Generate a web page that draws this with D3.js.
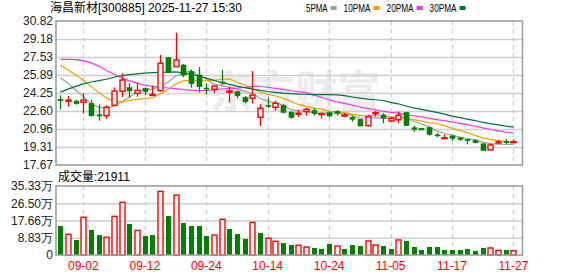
<!DOCTYPE html>
<html>
<head>
<meta charset="utf-8">
<script src="https://cdn.jsdelivr.net/npm/d3@7"></script>
<style>
body { margin: 0; background: #fff; }
svg { display: block; font-family: "Liberation Sans", Arial, "Noto Sans CJK SC", sans-serif; }
</style>
</head>
<body>
<div class="klinewrap"></div>
<script>
var dates = ["08-28","08-29","09-01","09-02","09-03","09-04","09-05","09-08","09-09","09-10",
    "09-11","09-12","09-15","09-16","09-17","09-18","09-19","09-22","09-23","09-24",
    "09-25","09-26","09-29","09-30","10-09","10-10","10-13","10-14","10-15","10-16",
    "10-17","10-20","10-21","10-22","10-23","10-24","10-27","10-28","10-29","10-30",
    "10-31","11-03","11-04","11-05","11-06","11-07","11-10","11-11","11-12","11-13",
    "11-14","11-17","11-18","11-19","11-20","11-21","11-24","11-25","11-26","11-27"];

var opens = [23.67,23.49,23.50,23.40,23.30,22.25,22.17,23.12,24.40,24.73,
    24.22,24.64,24.03,24.46,27.47,26.65,26.80,26.20,25.89,24.70,
    24.58,25.25,24.31,24.37,23.82,23.76,22.03,23.10,22.94,23.09,
    22.50,22.35,22.54,22.67,22.33,22.45,22.54,22.15,22.03,21.85,
    21.26,22.40,22.24,21.69,21.80,22.48,21.07,21.02,21.08,20.42,
    20.10,20.32,20.16,20.02,19.89,19.60,19.04,19.74,19.80,19.74];
var highs = [24.03,23.97,23.61,24.22,23.61,23.21,23.12,24.76,26.04,25.13,
    25.19,24.73,24.91,27.72,27.50,29.75,26.89,26.41,26.60,25.13,
    24.91,26.35,24.82,24.46,23.97,26.25,23.21,23.82,23.54,23.21,
    22.55,22.69,22.90,22.85,22.48,22.54,22.69,22.40,22.15,21.87,
    22.24,22.60,22.40,22.08,22.54,22.50,21.26,21.07,21.17,20.62,
    20.47,20.41,20.20,20.05,20.02,19.65,19.65,19.95,20.05,20.02];
var lows = [22.75,23.00,23.18,22.39,22.08,21.72,21.87,23.06,23.85,23.82,
    23.91,24.06,23.97,24.37,26.10,26.65,25.70,24.73,24.30,24.13,
    24.27,24.98,23.36,23.76,23.30,23.30,21.23,22.85,22.63,22.39,
    21.93,22.03,22.17,22.17,21.93,22.03,22.17,22.03,21.63,21.23,
    21.17,22.08,21.48,21.57,21.48,21.26,20.71,20.87,20.35,20.20,
    20.10,19.89,19.89,19.56,19.65,18.98,18.98,19.59,19.59,19.71];
var closes = [23.55,23.60,23.27,23.60,22.17,22.15,22.94,24.43,25.43,24.43,
    24.49,24.37,24.12,26.96,26.14,27.26,25.89,25.10,24.82,24.60,
    24.88,25.18,24.43,24.00,23.45,24.06,22.85,23.03,23.30,22.48,
    22.00,22.40,22.76,22.39,22.37,22.15,22.40,22.23,21.85,21.23,
    22.08,22.45,21.97,21.93,22.20,21.26,20.93,20.87,20.47,20.40,
    20.16,20.11,20.00,19.89,19.71,18.98,19.50,19.78,19.71,19.80];

// volume in 万手
var volumes = [14.85,10.6,7.7,19.3,12.8,10.2,9.1,19.8,27.0,15.9,
    12.6,9.7,10.2,32.6,20.0,30.7,16.4,14.85,14.85,9.7,
    10.2,18.3,13.3,10.75,8.2,16.7,11.3,8.55,7.0,6.1,
    5.1,5.0,4.1,3.6,3.1,5.6,4.6,3.1,5.1,4.6,
    7.2,5.1,4.6,3.1,7.7,7.2,4.1,2.56,4.1,4.1,
    2.56,2.56,2.56,3.1,2.05,3.6,3.6,2.4,2.56,2.19];

var ma5 = [25.64,25.13,24.52,23.91,23.24,22.96,22.83,23.06,23.43,23.89,
    24.34,24.63,24.57,24.87,25.22,25.77,26.07,26.27,25.84,25.53,
    25.06,24.92,24.78,24.62,24.39,24.22,23.76,23.48,23.34,23.14,
    22.73,22.64,22.59,22.41,22.38,22.41,22.41,22.31,22.20,21.96,
    21.96,21.97,21.92,21.93,22.13,21.96,21.66,21.44,21.15,20.79,
    20.57,20.40,20.23,20.11,19.97,19.74,19.62,19.57,19.54,19.55];
var ma10 = [26.80,26.35,25.90,25.40,24.85,24.30,23.80,23.45,23.45,23.56,
    23.66,23.73,23.82,24.15,24.55,25.06,25.35,25.42,25.36,25.38,
    25.41,25.50,25.53,25.23,24.96,24.64,24.34,24.13,23.98,23.77,
    23.48,23.20,23.03,22.87,22.77,22.58,22.53,22.45,22.31,22.18,
    22.19,22.19,22.12,22.07,22.05,21.96,21.81,21.68,21.54,21.46,
    21.26,21.03,20.83,20.63,20.38,20.15,20.01,19.90,19.82,19.76];
var ma20 = [27.32,27.32,27.30,27.20,27.00,26.70,26.30,25.95,25.60,25.35,
    25.15,24.95,24.85,24.75,24.70,24.65,24.55,24.50,24.47,24.47,
    24.54,24.61,24.67,24.69,24.76,24.85,24.84,24.77,24.67,24.57,
    24.45,24.35,24.28,24.05,23.86,23.61,23.43,23.29,23.14,22.97,
    22.83,22.70,22.57,22.47,22.41,22.27,22.17,22.06,21.92,21.82,
    21.73,21.61,21.47,21.35,21.21,21.06,20.91,20.79,20.68,20.61];
var ma30 = [24.33,24.60,24.85,25.08,25.25,25.38,25.50,25.68,25.83,25.93,
    26.00,26.06,26.10,26.13,26.16,26.18,26.08,25.95,25.80,25.60,
    25.40,25.20,25.03,24.88,24.74,24.60,24.48,24.38,24.30,24.23,
    24.18,24.14,24.13,24.09,24.09,24.09,24.07,24.00,23.88,23.77,
    23.69,23.63,23.56,23.39,23.26,23.06,22.89,22.75,22.61,22.47,
    22.31,22.14,21.99,21.86,21.73,21.56,21.45,21.34,21.22,21.13];

var priceTicks = [17.67, 19.31, 20.96, 22.60, 24.25, 25.89, 27.53, 29.18, 30.82];
var volTicks = [0, 8.83, 17.66, 26.50, 35.33];
var dateTicks = ["09-02","09-12","09-24","10-14","10-24","11-05","11-17","11-27"];

var maNames = ["5PMA", "10PMA", "20PMA", "30PMA"];
var maColors = ["#a0a0a0", "#f0a000", "#ff33ff", "#00733a"];
var upColor = "#ff0000",
    downColor = "#008000";

var width = 578, height = 276;
var left = 56, right = 522.5;
var kTop = 21, kBottom = 165,
    vTop = 186, vBottom = 255;

var svg = d3.select(".klinewrap").append("svg")
    .attr("width", width)
    .attr("height", height);

var x = d3.scaleBand()
    .domain(dates)
    .range([56.5, 517.3]);

var y = d3.scaleLinear()
    .domain([priceTicks[0], priceTicks[priceTicks.length - 1]])
    .range([kBottom, kTop]);

var vy = d3.scaleLinear()
    .domain([volTicks[0], volTicks[volTicks.length - 1]])
    .range([vBottom, vTop]);

function cx(d) { return x(d) + x.bandwidth()/2; }

// horizontal grid + y axis labels
function customYAxis(g, scale, ticks, fmt, top, bottom) {
    g.call(d3.axisLeft(scale).tickValues(ticks).tickFormat(fmt).tickSize(0).tickPadding(3));
    g.select(".domain").remove();
    g.selectAll(".tick text")
        .attr("fill", "#222")
        .style("font-size", "12px");
    g.selectAll(".tick")
        .filter(function(d, i) { return i > 0 && i < ticks.length - 1; })
        .append("line")
        .attr("x1", 0)
        .attr("x2", right - left)
        .attr("stroke", "#cfcfcf")
        .attr("stroke-width", 1.5);
}

function verticalGrid(top, bottom) {
    svg.append("g").selectAll("line")
        .data(dateTicks)
        .enter().append("line")
        .attr("x1", function(d) { return Math.round(cx(d)) + 0.5; })
        .attr("x2", function(d) { return Math.round(cx(d)) + 0.5; })
        .attr("y1", top)
        .attr("y2", bottom)
        .attr("stroke", "#cccccc")
        .attr("stroke-width", 1.2)
        .attr("stroke-dasharray", "4,4");
}

// watermark
svg.append("text")
    .attr("x", 210)
    .attr("y", 108)
    .attr("textLength", 170)
    .attr("lengthAdjust", "spacingAndGlyphs")
    .attr("fill", "#ececec")
    .style("font-family", "'Noto Sans CJK SC'")
    .style("font-weight", "bold")
    .style("font-size", "44px")
    .text("东方财富");

verticalGrid(kTop, kBottom);
verticalGrid(vTop, vBottom);

svg.append("g")
    .attr("transform", "translate(" + left + ",0)")
    .call(customYAxis, y, priceTicks, function(d) { return d.toFixed(2); });

svg.append("g")
    .attr("transform", "translate(" + left + ",0)")
    .call(customYAxis, vy, volTicks, function(d) { return d == 0 ? "0" : d.toFixed(2) + "万"; });

// moving averages
var mas = [ma5, ma10, ma20, ma30];
var line = d3.line()
    .x(function(d, i) { return cx(dates[i]); })
    .y(function(d) { return y(d); });

svg.append("g").selectAll("path")
    .data(mas)
    .enter().append("path")
    .attr("d", line)
    .attr("fill", "none")
    .attr("stroke", function(d, i) { return maColors[i]; })
    .attr("stroke-width", 1.2);

// candles
var bodyW = 5;
var candles = svg.append("g").selectAll("g")
    .data(dates)
    .enter().append("g");

candles.append("line")
    .attr("x1", function(d) { return Math.round(cx(d)) + 0.5; })
    .attr("x2", function(d) { return Math.round(cx(d)) + 0.5; })
    .attr("y1", function(d, i) { return y(highs[i]); })
    .attr("y2", function(d, i) { return y(lows[i]); })
    .attr("stroke", function(d, i) { return closes[i] >= opens[i] ? upColor : downColor; })
    .attr("stroke-width", 1.3);

candles.append("rect")
    .attr("x", function(d) { return Math.round(cx(d)) + 0.5 - bodyW/2; })
    .attr("width", bodyW)
    .attr("y", function(d, i) { return y(Math.max(opens[i], closes[i])); })
    .attr("height", function(d, i) { return Math.max(1, y(Math.min(opens[i], closes[i])) - y(Math.max(opens[i], closes[i]))); })
    .attr("fill", function(d, i) { return closes[i] >= opens[i] ? "#fff" : downColor; })
    .attr("stroke", function(d, i) { return closes[i] >= opens[i] ? upColor : downColor; })
    .attr("stroke-width", function(d, i) { return closes[i] >= opens[i] ? 1.4 : 0.6; });

// volume bars, coloured against previous close
function volUp(i) {
    return i == 0 ? closes[0] >= opens[0] : closes[i] >= closes[i - 1];
}

svg.append("g").selectAll("rect")
    .data(volumes)
    .enter().append("rect")
    .attr("x", function(d, i) { return Math.round(cx(dates[i])) + 0.5 - bodyW/2; })
    .attr("width", bodyW)
    .attr("y", function(d) { return vy(d); })
    .attr("height", function(d) { return vy(0) - vy(d); })
    .attr("fill", function(d, i) { return volUp(i) ? "#fff" : downColor; })
    .attr("stroke", function(d, i) { return volUp(i) ? upColor : "none"; })
    .attr("stroke-width", 1.4);

// frames
[[kTop, kBottom], [vTop, vBottom]].forEach(function(p) {
    svg.append("rect")
        .attr("x", left)
        .attr("y", p[0])
        .attr("width", right - left)
        .attr("height", p[1] - p[0])
        .attr("fill", "none")
        .attr("stroke", "#999")
        .attr("stroke-width", 1.5);
});

// date labels
svg.append("g").selectAll("text")
    .data(dateTicks)
    .enter().append("text")
    .attr("x", function(d) { return cx(d); })
    .attr("y", 270)
    .attr("text-anchor", "middle")
    .attr("fill", "#ff0000")
    .style("font-size", "12px")
    .text(function(d) { return d; });

// titles
svg.append("text")
    .attr("x", 50)
    .attr("y", 12)
    .attr("fill", "#000")
    .style("font-size", "12px")
    .text("海昌新材[300885] 2025-11-27 15:30");

svg.append("text")
    .attr("x", 58)
    .attr("y", 181)
    .attr("fill", "#000")
    .style("font-size", "12px")
    .text("成交量:21911");

// legend
var lx = 306;
maNames.forEach(function(name, i) {
    var tw = name.length * 5.4;
    svg.append("text")
        .attr("x", lx)
        .attr("y", 12)
        .attr("textLength", tw)
        .attr("lengthAdjust", "spacingAndGlyphs")
        .attr("fill", "#000")
        .style("font-size", "11px")
        .text(name);
    svg.append("rect")
        .attr("x", lx + tw + 3)
        .attr("y", 6)
        .attr("width", 6)
        .attr("height", 4)
        .attr("fill", maColors[i]);
    lx += tw + 3 + 6 + 7;
});
</script>
</body>
</html>
